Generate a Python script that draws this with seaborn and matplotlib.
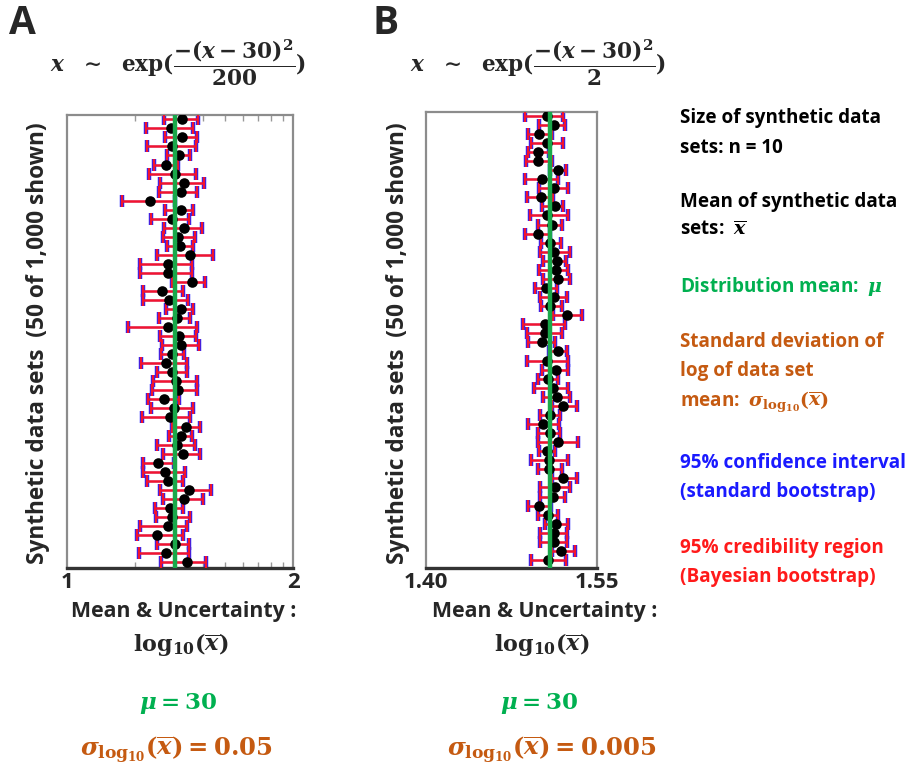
import numpy as np
import pandas as pd
import matplotlib
matplotlib.use("Agg")
import matplotlib.pyplot as plt
import seaborn as sns

# ---------------- data (log10 units) ----------------
rows = list(range(50))

a_mean = [1.507, 1.459, 1.510, 1.466, 1.497, 1.438, 1.478, 1.518, 1.503, 1.368,
          1.503, 1.466, 1.518, 1.493, 1.500, 1.544, 1.449, 1.449, 1.551, 1.419,
          1.453, 1.503, 1.485, 1.449, 1.497, 1.503, 1.463, 1.438, 1.463, 1.482,
          1.493, 1.429, 1.474, 1.456, 1.526, 1.503, 1.485, 1.515, 1.404, 1.435,
          1.449, 1.541, 1.518, 1.456, 1.466, 1.449, 1.400, 1.478, 1.438, 1.529]
a_lo = [1.429, 1.350, 1.435, 1.353, 1.444, 1.387, 1.365, 1.412, 1.409, 1.244,
        1.435, 1.371, 1.429, 1.424, 1.444, 1.397, 1.324, 1.324, 1.463, 1.338,
        1.335, 1.438, 1.409, 1.272, 1.412, 1.419, 1.415, 1.326, 1.397, 1.379,
        1.376, 1.357, 1.372, 1.331, 1.463, 1.453, 1.400, 1.426, 1.338, 1.335,
        1.356, 1.412, 1.424, 1.391, 1.393, 1.324, 1.312, 1.397, 1.318, 1.415]
a_hi = [1.581, 1.556, 1.574, 1.571, 1.544, 1.493, 1.571, 1.606, 1.574, 1.478,
        1.559, 1.541, 1.596, 1.566, 1.556, 1.644, 1.551, 1.551, 1.610, 1.515,
        1.534, 1.556, 1.544, 1.574, 1.571, 1.585, 1.518, 1.532, 1.532, 1.574,
        1.574, 1.497, 1.559, 1.544, 1.588, 1.551, 1.566, 1.588, 1.474, 1.522,
        1.512, 1.635, 1.600, 1.515, 1.544, 1.529, 1.515, 1.541, 1.540, 1.613]
a_mu = 1.4771

b_mean = [1.5060, 1.5127, 1.4995, 1.5060, 1.4981, 1.4987, 1.5162, 1.5016, 1.5127, 1.5010,
          1.5133, 1.5060, 1.5103, 1.4987, 1.5089, 1.5127, 1.5147, 1.5138, 1.5162, 1.5051,
          1.5127, 1.5089, 1.5235, 1.5045, 1.5045, 1.5016, 1.5162, 1.5060, 1.5138, 1.5074,
          1.5118, 1.5153, 1.5206, 1.5089, 1.5025, 1.5089, 1.5156, 1.5060, 1.5083, 1.5083,
          1.5206, 1.5133, 1.5118, 1.4992, 1.5068, 1.5138, 1.5127, 1.5127, 1.5185, 1.5068]
b_lo = [1.4870, 1.4992, 1.4899, 1.4922, 1.4893, 1.4879, 1.5089, 1.4870, 1.4992, 1.4884,
        1.5016, 1.4914, 1.4987, 1.4870, 1.5010, 1.5001, 1.5030, 1.4992, 1.5030, 1.4957,
        1.5001, 1.5010, 1.5118, 1.4855, 1.4884, 1.4893, 1.5080, 1.4884, 1.5016, 1.4987,
        1.4952, 1.5030, 1.5103, 1.5001, 1.4893, 1.4987, 1.4981, 1.4992, 1.4922, 1.4987,
        1.5103, 1.5001, 1.5001, 1.4893, 1.4987, 1.5045, 1.5001, 1.5001, 1.5103, 1.4922]
b_hi = [1.5206, 1.5220, 1.5103, 1.5206, 1.5080, 1.5103, 1.5226, 1.5162, 1.5249, 1.5118,
        1.5206, 1.5243, 1.5191, 1.5089, 1.5185, 1.5264, 1.5226, 1.5243, 1.5264, 1.5147,
        1.5235, 1.5191, 1.5372, 1.5220, 1.5191, 1.5133, 1.5235, 1.5243, 1.5243, 1.5162,
        1.5249, 1.5264, 1.5322, 1.5176, 1.5168, 1.5176, 1.5337, 1.5133, 1.5243, 1.5191,
        1.5322, 1.5264, 1.5220, 1.5097, 1.5162, 1.5249, 1.5235, 1.5235, 1.5308, 1.5226]
b_mu = 1.5091

a_xlim = (1.0, 2.0)
b_xlim = (1.40, 1.55)
a_ticklabels = ["1", "2"]
b_ticklabels = ["1.40", "1.55"]
a_minor_xbar = [20, 30, 40, 50, 60, 70, 80, 90]

# ---------------- styling ----------------
W, H = 917, 782
sns.set_theme(style="white")
plt.rcParams["font.family"] = ["Open Sans", "DejaVu Sans"]
plt.rcParams["font.weight"] = "bold"
plt.rcParams["mathtext.fontset"] = "custom"
plt.rcParams["mathtext.rm"] = "DejaVu Serif:bold"
plt.rcParams["mathtext.it"] = "DejaVu Serif:italic:bold"
plt.rcParams["mathtext.bf"] = "DejaVu Serif:bold"

GREEN = "#1aa84a"
TXT_GREEN = "#00b050"
ORANGE = "#c55a11"
BLUE = "#2222ff"
RED = "#f2142e"
TXT_BLUE = "#1a1aff"
TXT_RED = "#ff1a1a"

fig = plt.figure(figsize=(W / 100, H / 100), dpi=100)


def fx(x):
    return x / W


def fy(y):
    return 1 - y / H


def ax_rect(l, t, r, b):
    return [fx(l), fy(b), fx(r) - fx(l), fy(t) - fy(b)]


def panel(ax, mean, lo, hi, mu, xlim, ticklabels, ylim, minor=None):
    df = pd.DataFrame({"row": rows, "mean": mean, "lo": lo, "hi": hi})
    err = np.vstack([df["mean"] - df["lo"], df["hi"] - df["mean"]])
    ax.errorbar(df["mean"], df["row"], xerr=err, fmt="none", ecolor=BLUE,
                elinewidth=1.0, capsize=4.3, capthick=3.2, zorder=2)
    ax.errorbar(df["mean"], df["row"], xerr=err, fmt="none", ecolor=RED,
                elinewidth=1.8, capsize=4, capthick=1.7, zorder=3)
    sns.scatterplot(data=df, x="mean", y="row", color="black", s=58,
                    linewidth=0, zorder=4, ax=ax)
    ax.axvline(mu, color=GREEN, lw=3.2, zorder=5)
    ax.set_xlim(*xlim)
    ax.set_ylim(*ylim)
    ax.set_xlabel("")
    ax.set_ylabel("")
    ax.set_yticks([])
    ax.set_xticks(list(xlim))
    ax.set_xticklabels(ticklabels, fontsize=16, fontweight="bold")
    ax.tick_params(axis="x", which="major", length=0, pad=3)
    if minor is not None:
        ax.set_xticks(np.log10(minor), minor=True)
        ax.tick_params(axis="x", which="minor", direction="in", length=4,
                       width=1, color="#999999", top=True, bottom=True)
    for s in ("left", "top", "right"):
        ax.spines[s].set_color("#8c8c8c")
        ax.spines[s].set_linewidth(1.6)
    ax.spines["bottom"].set_color("#333333")
    ax.spines["bottom"].set_linewidth(2.4)


axA = fig.add_axes(ax_rect(66.7, 115, 293.3, 568))
panel(axA, a_mean, a_lo, a_hi, a_mu, a_xlim, a_ticklabels, (49.66, -0.48), a_minor_xbar)
axB = fig.add_axes(ax_rect(425.7, 112, 597, 568))
panel(axB, b_mean, b_lo, b_hi, b_mu, b_xlim, b_ticklabels, (49.88, -0.41))

# panel letters
fig.text(fx(9), fy(24), "A", fontsize=28, fontweight="bold", va="center", ha="left")
fig.text(fx(373), fy(24), "B", fontsize=28, fontweight="bold", va="center", ha="left")

# formulas
fig.text(fx(178), fy(63), r"$x\ \ \sim\ \ \mathrm{exp}(\dfrac{-(x-30)^2}{200})$",
         fontsize=15.6, ha="center", va="center")
fig.text(fx(538), fy(63), r"$x\ \ \sim\ \ \mathrm{exp}(\dfrac{-(x-30)^2}{2})$",
         fontsize=15.6, ha="center", va="center")

# y labels
ylab = "Synthetic data sets  (50 of 1,000 shown)"
fig.text(fx(38), fy(343), ylab, rotation=90, fontsize=16.3, fontweight="bold",
         ha="center", va="center")
fig.text(fx(398), fy(343), ylab, rotation=90, fontsize=16.3, fontweight="bold",
         ha="center", va="center")

# x labels and annotations under panels
for cx in (184, 545):
    fig.text(fx(cx), fy(612), "Mean & Uncertainty :", fontsize=15.3, fontweight="bold",
             ha="center", va="center")
    fig.text(fx(cx - 3), fy(645), r"$\mathrm{log}_{10}(\overline{x})$", fontsize=16,
             ha="center", va="center")
    fig.text(fx(cx - 6), fy(703), r"$\mu = 30$", fontsize=16.5, color=TXT_GREEN,
             ha="center", va="center")
fig.text(fx(176), fy(750), r"$\sigma_{\mathrm{log}_{10}}(\overline{x}) = 0.05$", fontsize=17.5,
         color=ORANGE, ha="center", va="center")
fig.text(fx(552), fy(750), r"$\sigma_{\mathrm{log}_{10}}(\overline{x}) = 0.005$", fontsize=17.5,
         color=ORANGE, ha="center", va="center")

# right-hand legend text
legend_lines = [
    ("Size of synthetic data", 118, "black"),
    ("sets: n = 10", 148, "black"),
    ("Mean of synthetic data", 202, "black"),
    (r"sets:  $\overline{x}$", 230, "black"),
    (r"Distribution mean:  $\mu$", 286, TXT_GREEN),
    ("Standard deviation of", 342, ORANGE),
    ("log of data set", 371, ORANGE),
    (r"mean:  $\sigma_{\mathrm{log}_{10}}(\overline{x})$", 402, ORANGE),
    ("95% confidence interval", 463, TXT_BLUE),
    ("(standard bootstrap)", 492, TXT_BLUE),
    ("95% credibility region", 548, TXT_RED),
    ("(Bayesian bootstrap)", 577, TXT_RED),
]
for txt, y, c in legend_lines:
    fig.text(fx(680), fy(y), txt, fontsize=13.6, fontweight="bold", color=c,
             ha="left", va="center")

fig.savefig("out.png", dpi=100)
